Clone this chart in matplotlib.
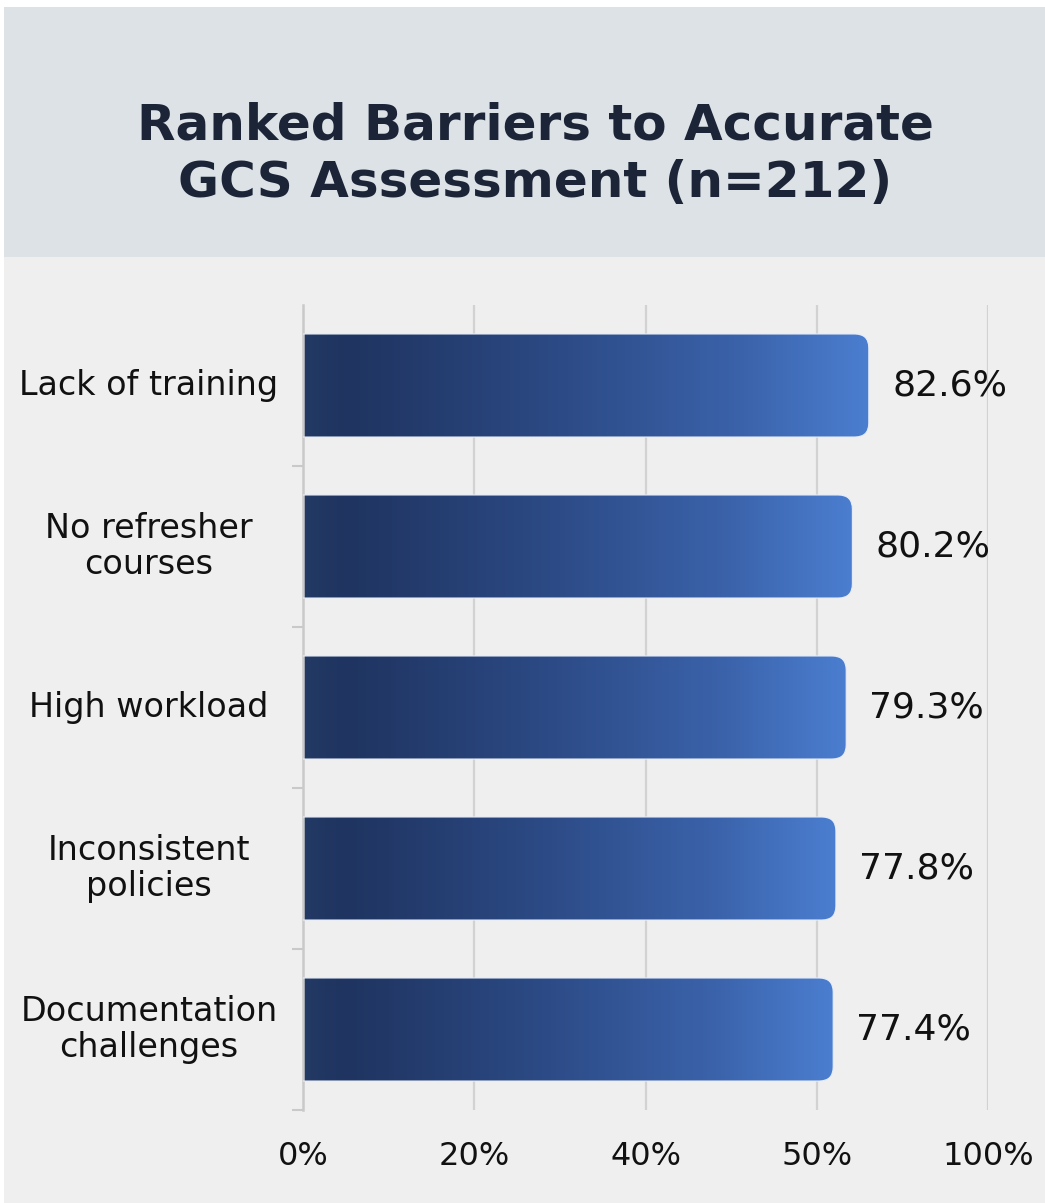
import numpy as np
import matplotlib.pyplot as plt
from matplotlib.colors import LinearSegmentedColormap
from matplotlib.patches import FancyBboxPatch, Rectangle
from matplotlib.transforms import blended_transform_factory

plt.rcParams['font.family'] = ['DejaVu Sans']

categories = ['Lack of training', 'No refresher\ncourses', 'High workload',
              'Inconsistent\npolicies', 'Documentation\nchallenges']
values = [82.6, 80.2, 79.3, 77.8, 77.4]
value_labels = ['82.6%', '80.2%', '79.3%', '77.8%', '77.4%']
x_ticks = [0, 25, 50, 75, 100]
x_tick_labels = ['0%', '20%', '40%', '50%', '100%']
title = 'Ranked Barriers to Accurate\nGCS Assessment (n=212)'

W, H = 1045, 1203
fig = plt.figure(figsize=(W / 100, H / 100), dpi=100)
fig.patch.set_facecolor('white')

# page background and title band
fig.patches.append(Rectangle((4 / W, 0), 1, 1 - 7 / H, transform=fig.transFigure,
                             facecolor='#efefef', edgecolor='none', zorder=-2))
fig.patches.append(Rectangle((4 / W, 1 - 257 / H), 1, 250 / H, transform=fig.transFigure,
                             facecolor='#dde2e7', edgecolor='none', zorder=-1))
fig.text(535 / W, 1 - 154 / H, title, ha='center', va='center', fontsize=36,
         fontweight='bold', color='#1c2538', linespacing=1.25)

ax = fig.add_axes([303 / W, 1 - 1110 / H, 685 / W, 805 / H])
ax.set_facecolor('none')
ax.set_xlim(0, 100)
ax.set_ylim(len(categories) - 0.5, -0.5)

for s in ['top', 'right', 'bottom']:
    ax.spines[s].set_visible(False)
ax.spines['left'].set_color('#c9c9c9')
ax.spines['left'].set_linewidth(1.8)

ax.set_xticks(x_ticks)
ax.set_xticklabels(x_tick_labels, fontsize=23, color='#111111')
ax.tick_params(axis='x', length=0, pad=22)
ax.set_yticks(np.arange(len(categories)) + 0.5)
ax.set_yticklabels([])
ax.tick_params(axis='y', length=8, width=1.5, color='#c9c9c9')
for xv in x_ticks[1:]:
    ax.axvline(xv, color='#d2d2d2', linewidth=1.6, zorder=0)

# dark navy on the left fading to mid blue at the bar end
cmap = LinearSegmentedColormap.from_list('bar', [
    (0.0, '#233a65'), (0.08, '#1f3460'), (0.45, '#2c4a85'),
    (0.78, '#3b63ab'), (1.0, '#4b7ed0')])
grad = np.linspace(0, 1, 256)[None, :]
bar_h = 0.64
# rounded right end: radius ~14px, corrected for the axes aspect
px_x = 685 / 100
px_y = 805 / len(categories)
r = 14 / px_x
aspect = (14 / px_y) / r

label_tr = blended_transform_factory(fig.transFigure, ax.transData)
for i, (cat, v, lab) in enumerate(zip(categories, values, value_labels)):
    box = FancyBboxPatch((-4, i - bar_h / 2), v + 4, bar_h,
                         boxstyle=f'round,pad=0,rounding_size={r}',
                         mutation_aspect=aspect, facecolor='none',
                         edgecolor='#e8eef8', linewidth=0.8, zorder=3)
    ax.add_patch(box)
    im = ax.imshow(grad, cmap=cmap, aspect='auto', interpolation='bicubic',
                   extent=[0, v, i + bar_h / 2, i - bar_h / 2], zorder=2)
    im.set_clip_path(box)
    ax.text(v + 3.4, i, lab, ha='left', va='center', fontsize=26, color='#111111')
    ax.text(149 / W, i, cat, transform=label_tr, ha='center', va='center',
            fontsize=24, color='#111111', linespacing=1.15, multialignment='center')

ax.set_ylim(len(categories) - 0.5, -0.5)
ax.set_xlim(0, 100)

fig.savefig('out.png', dpi=100)
